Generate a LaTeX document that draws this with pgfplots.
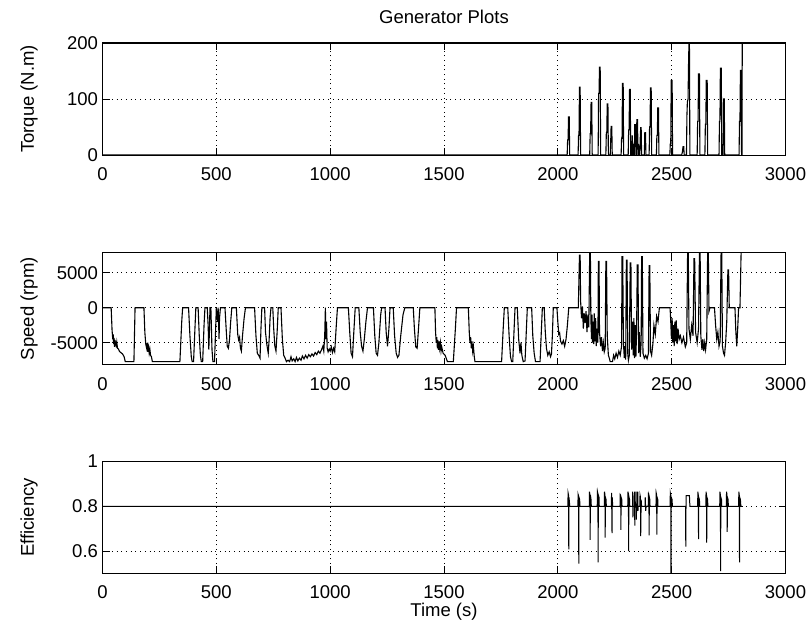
\documentclass[border=0pt]{standalone}
\usepackage{pgfplots}
\pgfplotsset{compat=1.18}
\usepackage{fontspec}
\setmainfont{Liberation Sans}
\begin{document}
\begin{tikzpicture}
\useasboundingbox (0pt,0pt) rectangle (809pt,-634pt);
\pgfplotsset{
  mstyle/.style={
    width=683pt, height=112pt, scale only axis,
    xmin=0, xmax=3000,
    xtick={0,500,1000,1500,2000,2500,3000},
    scaled ticks=false,
    /pgf/number format/1000 sep={},
    /pgf/number format/assume math mode=true,
    grid=major,
    major grid style={black, line width=1pt, dash pattern=on 1pt off 3.7pt},
    axis line style={black, line width=1pt},
    tick style={black, line width=1pt},
    major tick length=7pt,
    tick align=inside,
    clip=false,
    ticklabel style={font=\fontsize{18.5}{20}\selectfont},
    xticklabel style={yshift=-9pt},
    yticklabel style={xshift=-1pt},
    label style={font=\fontsize{18.5}{20}\selectfont},
    every axis y label/.style={at={(axis description cs:-0.1076,0.5)}, rotate=90, anchor=center, font=\fontsize{18.5}{20}\selectfont},
  },
  dat/.style={black, no marks, line width=1.1pt, solid, line join=miter}
}
% ---------------- Torque ----------------
\begin{axis}[mstyle, at={(102.5pt,-155pt)}, anchor=south west,
  ymin=0, ymax=200, ytick={0,100,200},
  ylabel={Torque (N.m)},
  title={Generator Plots},
  title style={font=\fontsize{18.5}{20}\selectfont, at={(axis description cs:0.5,1)}, anchor=center, yshift=20pt}]
\addplot[dat] coordinates {
(0,0) (2041,0)
(2043,27)(2045,27)(2047,68)(2050,68)(2052,0)
(2089,0)(2091,35)(2093,35)(2095,121)(2098,121)(2100,0)
(2140,0)(2142,38)(2144,38)(2146,94)(2149,94)(2151,0)
(2177,0)(2179,110)(2181,110)(2183,157)(2186,157)(2188,0)
(2211,0)(2213,40)(2215,40)(2217,91)(2220,91)(2222,0)
(2230,0)(2232,20)(2234,51)(2237,51)(2239,0)
(2278,0)(2280,30)(2282,30)(2284,128)(2287,128)(2289,0)
(2309,0)(2311,45)(2313,45)(2315,117)(2318,117)(2320,0)
(2322,0)(2323,25)(2325,0)(2327,35)(2329,0)(2331,20)(2333,0)
(2336,0)(2338,54)(2341,54)(2343,0)
(2345,0)(2347,63)(2350,63)(2352,0)(2354,20)(2356,0)
(2360,0)(2362,30)(2364,49)(2366,49)(2368,0)
(2380,0)(2382,40)(2385,40)(2387,0)
(2401,0)(2403,50)(2405,50)(2407,120)(2410,120)(2412,0)
(2433,0)(2435,35)(2437,35)(2439,84)(2442,84)(2444,0)
(2492,0)(2494,20)(2496,20)(2498,133)(2502,133)(2504,0)
(2544,0)(2547,5)(2550,15)(2553,15)(2555,0)
(2565,0)(2567,70)(2569,95)(2572,100)(2574,160)(2576,200)(2578,200)(2580,0)
(2612,0)(2614,60)(2616,60)(2618,145)(2622,145)(2624,0)
(2646,0)(2648,55)(2650,55)(2652,133)(2656,133)(2658,0)
(2708,0)(2710,60)(2712,60)(2714,155)(2718,155)(2720,0)
(2726,0)(2728,100)(2731,100)(2733,0)
(2796,0)(2798,60)(2800,60)(2802,151)(2805,151)(2807,0)(2809,0)(2810,200)
};
\end{axis}
% ---------------- Speed ----------------
\begin{axis}[mstyle, at={(102.5pt,-364.7pt)}, anchor=south west,
  ymin=-8140, ymax=7860, ytick={-5000,0,5000},
  ylabel={Speed (rpm)}]
\addplot[dat] coordinates {
(0,0) (38,0) (42,-3200) (45,-4500) (47,-3800) (49,-5200) (51,-4300) (53,-5600) (55,-4600) (57,-5400) (59,-4800) (61,-5700) (63,-5000) (66,-5800) (70,-5900) (74,-6200) (80,-6400) (88,-6600) (95,-7000) (100,-7700) (138,-7700) (143,0) (182,0) (186,-3500) (190,-5200) (194,-5800) (197,-5000) (199,-6300) (202,-5600) (205,-6500) (208,-5900) (211,-6800) (215,-7000) (219,-7700) (340,-7700) (348,-2000) (352,0) (378,0)
(384,-4000) (390,-7000) (394,-7700) (400,-7700) (406,-3000) (410,0) (420,0) (425,-4000) (430,-6800) (434,-7700) (440,-7700) (446,-2500) (450,0) (460,0) (464,-2500) (467,-6000) (470,-3000) (472,0) (476,0) (481,-6000) (485,-7700) (492,-7700) (497,-3000) (500,0) (506,-2000) (508,0) (512,-4500) (514,-1500) (518,0) (538,0) (544,-3500) (548,-5500) (553,-5800) (558,-4500) (563,-2000) (568,0) (588,0) (594,-3800) (598,-4600) (602,-4200) (606,-5800) (610,-6200) (615,-4000) (622,-1500) (628,0) (668,0) (674,-4000) (680,-6500) (686,-6800) (692,-7200) (696,-3000) (700,0) (712,0) (716,-3500) (722,-5300) (728,-6500) (732,-4500) (736,-1500) (740,0) (748,0) (752,-3000) (757,-5500) (762,-6200) (767,-3500) (772,0) (784,0) (790,-4500) (796,-6800) (802,-7200) (808,-7700) (815,-7500) (822,-7700) (828,-7000) (833,-7600) (840,-7300) (846,-7700) (852,-7100) (858,-7600) (865,-7200) (872,-7500) (878,-6900) (885,-7300) (892,-6800) (899,-7200) (906,-6700) (913,-7000) (920,-6600) (927,-6900) (934,-6400) (941,-6700) (948,-6200) (955,-6500) (962,-6000) (968,-5500) (972,-6200) (976,-4000) (979,0) (981,-4500) (984,-2000) (987,-5800) (991,-6300) (996,-5900) (1000,-6200)
(1005,-5600) (1010,-6400) (1015,-5800) (1020,-6300) (1026,-3000) (1032,0) (1080,0) (1086,-3500) (1092,-6500) (1098,-7000) (1103,-4000) (1110,0) (1126,0) (1132,-3500) (1138,-5500) (1144,-6200) (1150,-4500) (1157,-2000) (1164,0) (1190,0) (1196,-4000) (1202,-6500) (1208,-6800) (1214,-5000) (1222,-1000) (1226,0) (1241,0) (1246,-3500) (1252,-5500) (1258,-3000) (1263,0) (1277,0) (1283,-4000) (1290,-6500) (1296,-7100) (1302,-6800) (1310,-4000) (1320,-1000) (1328,0) (1365,0) (1370,-3000) (1376,-5600) (1382,-5800) (1388,-3000) (1394,0) (1460,0) (1463,-3500) (1466,-5000) (1468,-4200) (1471,-5800) (1473,-4600) (1476,-6000) (1478,-4800) (1481,-5800) (1484,-5000) (1487,-6200) (1490,-5600) (1496,-6500) (1505,-6800) (1515,-7700) (1541,-7700) (1550,-3000) (1555,0) (1607,0) (1611,-3500) (1614,-5000) (1617,-4200) (1620,-5800) (1623,-4800) (1626,-6200) (1629,-5500) (1633,-7000) (1636,-7700) (1753,-7700)
(1760,-3000) (1765,0) (1780,0) (1786,-4000) (1792,-7000) (1797,-7700) (1802,-7700) (1808,-3000) (1812,0) (1822,0) (1828,-4500) (1834,-6500) (1838,-5000) (1842,-6800) (1848,-7700) (1856,-7600) (1862,-3000) (1866,0) (1885,0) (1890,-4000) (1896,-6500) (1902,-7700) (1922,-7700) (1928,-3000) (1932,0) (1940,0) (1945,-3500) (1950,-5800) (1956,-6800) (1962,-6300) (1968,-7000) (1972,-6600) (1976,-4000) (1980,0) (1996,0) (2000,-2000) (2004,-3800) (2008,-3600) (2012,-4800) (2018,-5200) (2024,-4700) (2030,-5500) (2036,-4500) (2042,-2500) (2048,0) (2090,0)
(2095,7500) (2098,7500) (2100,1000) (2104,-1500) (2108,200) (2112,-3000) (2116,-800) (2120,-2200) (2124,-500) (2128,-3500) (2132,-1000) (2136,-2800) (2140,7860) (2143,7860) (2145,-1500) (2148,-4500) (2150,-1000) (2152,-5000) (2155,-2000) (2158,-5200) (2160,-800) (2163,-4800) (2166,-1500) (2169,-5500) (2172,-3000) (2176,-5000) (2178,6600) (2181,6600) (2183,-3500) (2188,-5500) (2192,-4200) (2196,-6200) (2200,-5000) (2204,-6300) (2208,-5800) (2211,6600) (2214,6600) (2217,-4000) (2222,-6800) (2226,-7200) (2230,-7700) (2240,-7700) (2245,-6800) (2250,-7300) (2256,-6500) (2262,-7100) (2268,-6200) (2274,-6800) (2280,-5500) (2282,7300) (2285,7300) (2288,-5000) (2292,-7200) (2295,-5500) (2298,-7400) (2301,6800) (2304,6800) (2307,-6500) (2310,-7500) (2314,-6800) (2318,6400) (2321,6400) (2324,-6000) (2328,-2000) (2331,-6800) (2334,-1500) (2337,-7200) (2340,-2500) (2343,-7000) (2346,-3000) (2349,6100) (2352,6100) (2355,-6500) (2358,-3500) (2362,-7000) (2366,-5000) (2368,7300) (2371,7300) (2374,-6500) (2380,-7200) (2386,-6800) (2392,-7300) (2398,-6500) (2401,6000) (2404,6000) (2407,-6200) (2412,-6800) (2418,-5000) (2422,-2500) (2428,-3800) (2434,-1200) (2440,-2000) (2446,0) (2493,0) (2496,-2000) (2499,-4500) (2502,-1500) (2505,-5000) (2508,-2500) (2511,-5500) (2514,-2000) (2517,-4800) (2520,-1800) (2524,-5200) (2528,-3000) (2533,-4500) (2538,-4000) (2545,-5000) (2552,-4200) (2560,-5600) (2566,-5000) (2570,7860) (2573,7860) (2576,-3000) (2582,-4500) (2588,-2500) (2594,-4000) (2598,7000) (2601,7000) (2605,-3500) (2612,-5000) (2618,-3000) (2622,7860) (2625,7860) (2628,-4000) (2633,-6000) (2637,-4500) (2641,-6200) (2645,-5000) (2649,-6000) (2654,-4500) (2658,7860) (2661,7860) (2664,-500) (2668,0) (2688,0) (2693,-2500) (2698,-4500) (2703,-3500) (2708,-5500) (2713,-4800) (2717,7860) (2720,7860) (2723,-5500) (2728,-6500) (2732,-6800) (2737,-5000) (2742,-2000) (2747,5400) (2750,5400) (2753,0) (2778,0) (2782,-3500) (2786,-5500) (2790,-3000) (2794,0) (2800,0) (2805,7860)
};
\end{axis}
% ---------------- Efficiency ----------------
\begin{axis}[mstyle, at={(102.5pt,-573.46pt)}, anchor=south west,
  ymin=0.5, ymax=1, ytick={0.6,0.8,1},
  ylabel={Efficiency}, xlabel={Time (s)},
  xlabel style={at={(axis description cs:0.5,0)}, anchor=center, yshift=-38pt}]
\addplot[dat, line width=1pt] coordinates {
(0,0.8)(2044,0.8)(2045,0.86)(2047,0.85)(2048,0.608)(2049,0.84)(2051,0.82)(2052,0.8)
(2088,0.8)(2089,0.85)(2091,0.84)(2092,0.544)(2093,0.84)(2096,0.83)(2097,0.8)
(2138,0.8)(2139,0.865)(2141,0.85)(2142,0.65)(2143,0.85)(2146,0.83)(2147,0.8)
(2173,0.8)(2174,0.865)(2176,0.855)(2177,0.55)(2178,0.85)(2181,0.84)(2182,0.8)
(2204,0.8)(2205,0.865)(2207,0.85)(2208,0.66)(2209,0.84)(2212,0.83)(2213,0.8)
(2235,0.8)(2236,0.86)(2238,0.68)(2239,0.84)(2241,0.8)
(2273,0.8)(2274,0.85)(2276,0.845)(2277,0.695)(2278,0.84)(2281,0.83)(2282,0.8)
(2307,0.8)(2308,0.865)(2310,0.85)(2311,0.60)(2312,0.845)(2315,0.83)(2316,0.8)
(2328,0.8)(2329,0.865)(2330,0.75)(2331,0.8)
(2336,0.8)(2337,0.865)(2338,0.714)(2339,0.8)
(2343,0.8)(2344,0.865)(2345,0.74)(2346,0.8)
(2350,0.8)(2351,0.865)(2352,0.78)(2353,0.8)
(2360,0.8)(2361,0.85)(2363,0.84)(2364,0.667)(2366,0.83)(2368,0.8)
(2383,0.8)(2384,0.84)(2386,0.78)(2388,0.8)
(2397,0.8)(2398,0.85)(2400,0.84)(2401,0.67)(2402,0.84)(2404,0.83)(2405,0.8)
(2431,0.8)(2432,0.86)(2434,0.85)(2435,0.673)(2436,0.84)(2439,0.83)(2440,0.8)
(2493,0.8)(2494,0.86)(2496,0.85)(2497,0.5)(2498,0.84)(2502,0.83)(2503,0.8)
(2561,0.8)(2562,0.62)(2563,0.8)(2564,0.847)(2578,0.847)(2580,0.8)
(2614,0.8)(2615,0.865)(2617,0.85)(2618,0.653)(2619,0.84)(2622,0.83)(2623,0.8)
(2650,0.8)(2651,0.865)(2653,0.85)(2654,0.638)(2655,0.84)(2658,0.83)(2659,0.8)
(2711,0.8)(2712,0.865)(2714,0.85)(2715,0.51)(2716,0.84)(2719,0.83)(2720,0.8)
(2740,0.8)(2741,0.865)(2743,0.85)(2744,0.686)(2745,0.84)(2748,0.83)(2749,0.8)
(2794,0.8)(2795,0.865)(2797,0.85)(2798,0.55)(2799,0.84)(2802,0.83)(2804,0.8)(2810,0.8)
};
\end{axis}
\end{tikzpicture}
\end{document}
